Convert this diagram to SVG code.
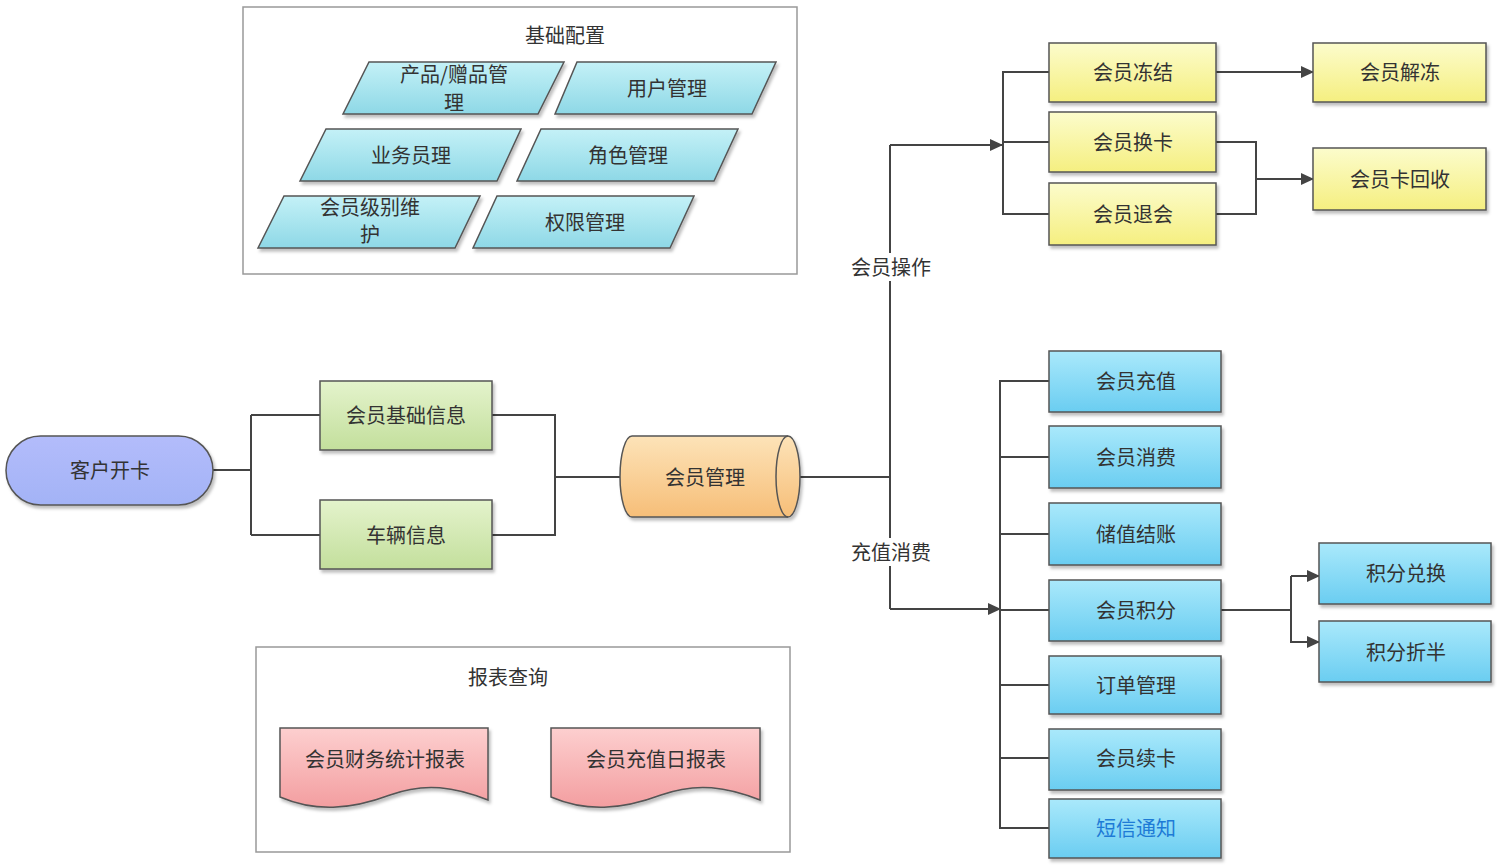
<svg xmlns="http://www.w3.org/2000/svg" width="1500" height="867" viewBox="0 0 1500 867">
<defs>
<linearGradient id="gCyan" x1="0" y1="0" x2="0" y2="1"><stop offset="0" stop-color="#c4f1f7"/><stop offset="1" stop-color="#8ed8e6"/></linearGradient>
<linearGradient id="gGreen" x1="0" y1="0" x2="0" y2="1"><stop offset="0" stop-color="#e4f3cc"/><stop offset="1" stop-color="#c3df9c"/></linearGradient>
<linearGradient id="gPurple" x1="0" y1="0" x2="0" y2="1"><stop offset="0" stop-color="#b3bcfb"/><stop offset="1" stop-color="#a3b3f6"/></linearGradient>
<linearGradient id="gOrange" x1="0" y1="0" x2="0" y2="1"><stop offset="0" stop-color="#fde3b8"/><stop offset="1" stop-color="#f6be78"/></linearGradient>
<linearGradient id="gYellow" x1="0" y1="0" x2="0" y2="1"><stop offset="0" stop-color="#fcfccc"/><stop offset="1" stop-color="#f5ef80"/></linearGradient>
<linearGradient id="gBlue" x1="0" y1="0" x2="0" y2="1"><stop offset="0" stop-color="#aae9fb"/><stop offset="1" stop-color="#6acdf1"/></linearGradient>
<linearGradient id="gPink" x1="0" y1="0" x2="0" y2="1"><stop offset="0" stop-color="#fdcfcf"/><stop offset="1" stop-color="#f39ea0"/></linearGradient>
<filter id="sh" x="-10%" y="-10%" width="130%" height="140%"><feDropShadow dx="2" dy="3" stdDeviation="1.5" flood-color="#000" flood-opacity="0.25"/></filter>
<marker id="arr" markerWidth="13" markerHeight="12" refX="12" refY="6" orient="auto" markerUnits="userSpaceOnUse"><path d="M0,0 L13,6 L0,12 Z" fill="#444"/></marker>
</defs>
<style>
text{font-family:"Noto Sans CJK SC","Noto Sans",sans-serif;font-size:20px;fill:#333;text-anchor:middle;dominant-baseline:central}
.sh{stroke:#555;stroke-width:1.5;filter:url(#sh)}
.con{fill:none;stroke:#444;stroke-width:2}
.frame{fill:#fff;stroke:#999;stroke-width:1.5}
</style>
<rect width="1500" height="867" fill="#fff"/>

<g id="jichu">
<rect class="frame" x="243" y="7" width="554" height="267"/>
<text x="565" y="34">基础配置</text>
</g>
<g id="p1"><polygon class="sh" fill="url(#gCyan)" points="369,62 564,62 538,114 343,114"/><text x="454" y="73">产品/赠品管</text><text x="454" y="101">理</text></g>
<g id="p2"><polygon class="sh" fill="url(#gCyan)" points="577,62 776,62 752,114 555,114"/><text x="667" y="87">用户管理</text></g>
<g id="p3"><polygon class="sh" fill="url(#gCyan)" points="326,129 521,129 497,181 300,181"/><text x="411" y="154">业务员理</text></g>
<g id="p4"><polygon class="sh" fill="url(#gCyan)" points="541,129 738,129 714,181 517,181"/><text x="628" y="154">角色管理</text></g>
<g id="p5"><polygon class="sh" fill="url(#gCyan)" points="284,196 480,196 455,248 258,248"/><text x="370" y="206">会员级别维</text><text x="370" y="233">护</text></g>
<g id="p6"><polygon class="sh" fill="url(#gCyan)" points="497,196 694,196 670,248 473,248"/><text x="585" y="221">权限管理</text></g>

<g id="connectors">
<path class="con" d="M213,470 H251 M251,415 V535 M251,415 H320 M251,535 H320"/>
<path class="con" d="M492,415 H555 V535 H492 M555,477 H620"/>
<path class="con" d="M800,477 H890 M890,145 V609"/>
<path class="con" d="M890,145 H1002" marker-end="url(#arr)"/>
<path class="con" d="M890,609 H1000" marker-end="url(#arr)"/>
<path class="con" d="M1049,72 H1003 V214 H1049 M1003,142 H1049"/>
<path class="con" d="M1216,72 H1313" marker-end="url(#arr)"/>
<path class="con" d="M1216,142 H1256 V214 H1216"/>
<path class="con" d="M1256,179 H1313" marker-end="url(#arr)"/>
<path class="con" d="M1049,381 H1000 V828 H1049 M1000,457 H1049 M1000,534 H1049 M1000,610 H1049 M1000,685 H1049 M1000,758 H1049"/>
<path class="con" d="M1221,610 H1291 V576"/>
<path class="con" d="M1291,576 H1319" marker-end="url(#arr)"/>
<path class="con" d="M1291,610 V642 H1319" marker-end="url(#arr)"/>
<rect x="847" y="253" width="88" height="28" fill="#fff"/>
<text x="891" y="266">会员操作</text>
<rect x="847" y="538" width="88" height="28" fill="#fff"/>
<text x="891" y="551">充值消费</text>
</g>

<g id="kaika"><rect class="sh" fill="url(#gPurple)" x="6" y="436" width="207" height="69" rx="34.5"/><text x="110" y="469">客户开卡</text></g>
<g id="jichuxinxi"><rect class="sh" fill="url(#gGreen)" x="320" y="381" width="172" height="69"/><text x="406" y="414">会员基础信息</text></g>
<g id="cheliang"><rect class="sh" fill="url(#gGreen)" x="320" y="500" width="172" height="69"/><text x="406" y="534">车辆信息</text></g>
<g id="huiyuanguanli">
<path class="sh" fill="url(#gOrange)" d="M632,436 H788 A12,40.5 0 0 1 788,517 H632 A12,40.5 0 0 1 632,436 Z"/>
<path fill="none" stroke="#555" stroke-width="1.5" d="M788,436 A12,40.5 0 0 0 788,517"/>
<text x="705" y="476">会员管理</text>
</g>

<g id="dongjie"><rect class="sh" fill="url(#gYellow)" x="1049" y="43" width="167" height="59"/><text x="1133" y="71">会员冻结</text></g>
<g id="huanka"><rect class="sh" fill="url(#gYellow)" x="1049" y="112" width="167" height="60"/><text x="1133" y="141">会员换卡</text></g>
<g id="tuihui"><rect class="sh" fill="url(#gYellow)" x="1049" y="183" width="167" height="62"/><text x="1133" y="213">会员退会</text></g>
<g id="jiedong"><rect class="sh" fill="url(#gYellow)" x="1313" y="43" width="173" height="59"/><text x="1400" y="71">会员解冻</text></g>
<g id="huishou"><rect class="sh" fill="url(#gYellow)" x="1313" y="148" width="173" height="62"/><text x="1400" y="178">会员卡回收</text></g>

<g id="chongzhi"><rect class="sh" fill="url(#gBlue)" x="1049" y="351" width="172" height="61"/><text x="1136" y="380">会员充值</text></g>
<g id="xiaofei"><rect class="sh" fill="url(#gBlue)" x="1049" y="426" width="172" height="62"/><text x="1136" y="456">会员消费</text></g>
<g id="jiezhang"><rect class="sh" fill="url(#gBlue)" x="1049" y="503" width="172" height="62"/><text x="1136" y="533">储值结账</text></g>
<g id="jifen"><rect class="sh" fill="url(#gBlue)" x="1049" y="580" width="172" height="61"/><text x="1136" y="609">会员积分</text></g>
<g id="dingdan"><rect class="sh" fill="url(#gBlue)" x="1049" y="656" width="172" height="58"/><text x="1136" y="684">订单管理</text></g>
<g id="xuka"><rect class="sh" fill="url(#gBlue)" x="1049" y="729" width="172" height="61"/><text x="1136" y="757">会员续卡</text></g>
<g id="duanxin"><rect class="sh" fill="url(#gBlue)" x="1049" y="799" width="172" height="59"/><text x="1136" y="827" style="fill:#1e7bd6">短信通知</text></g>
<g id="duihuan"><rect class="sh" fill="url(#gBlue)" x="1319" y="543" width="172" height="61"/><text x="1406" y="572">积分兑换</text></g>
<g id="zheban"><rect class="sh" fill="url(#gBlue)" x="1319" y="621" width="172" height="61"/><text x="1406" y="651">积分折半</text></g>

<g id="baobiao">
<rect class="frame" x="256" y="647" width="534" height="205"/>
<text x="508" y="676">报表查询</text>
</g>
<g id="caiwu"><path class="sh" fill="url(#gPink)" d="M280,728 H488 V800 C455,787 425,782 390,795 C350,810 315,812 280,797 Z"/><text x="385" y="758">会员财务统计报表</text></g>
<g id="ribao"><path class="sh" fill="url(#gPink)" d="M551,728 H760 V800 C727,787 697,782 661,795 C621,810 586,812 551,797 Z"/><text x="656" y="758">会员充值日报表</text></g>
</svg>
